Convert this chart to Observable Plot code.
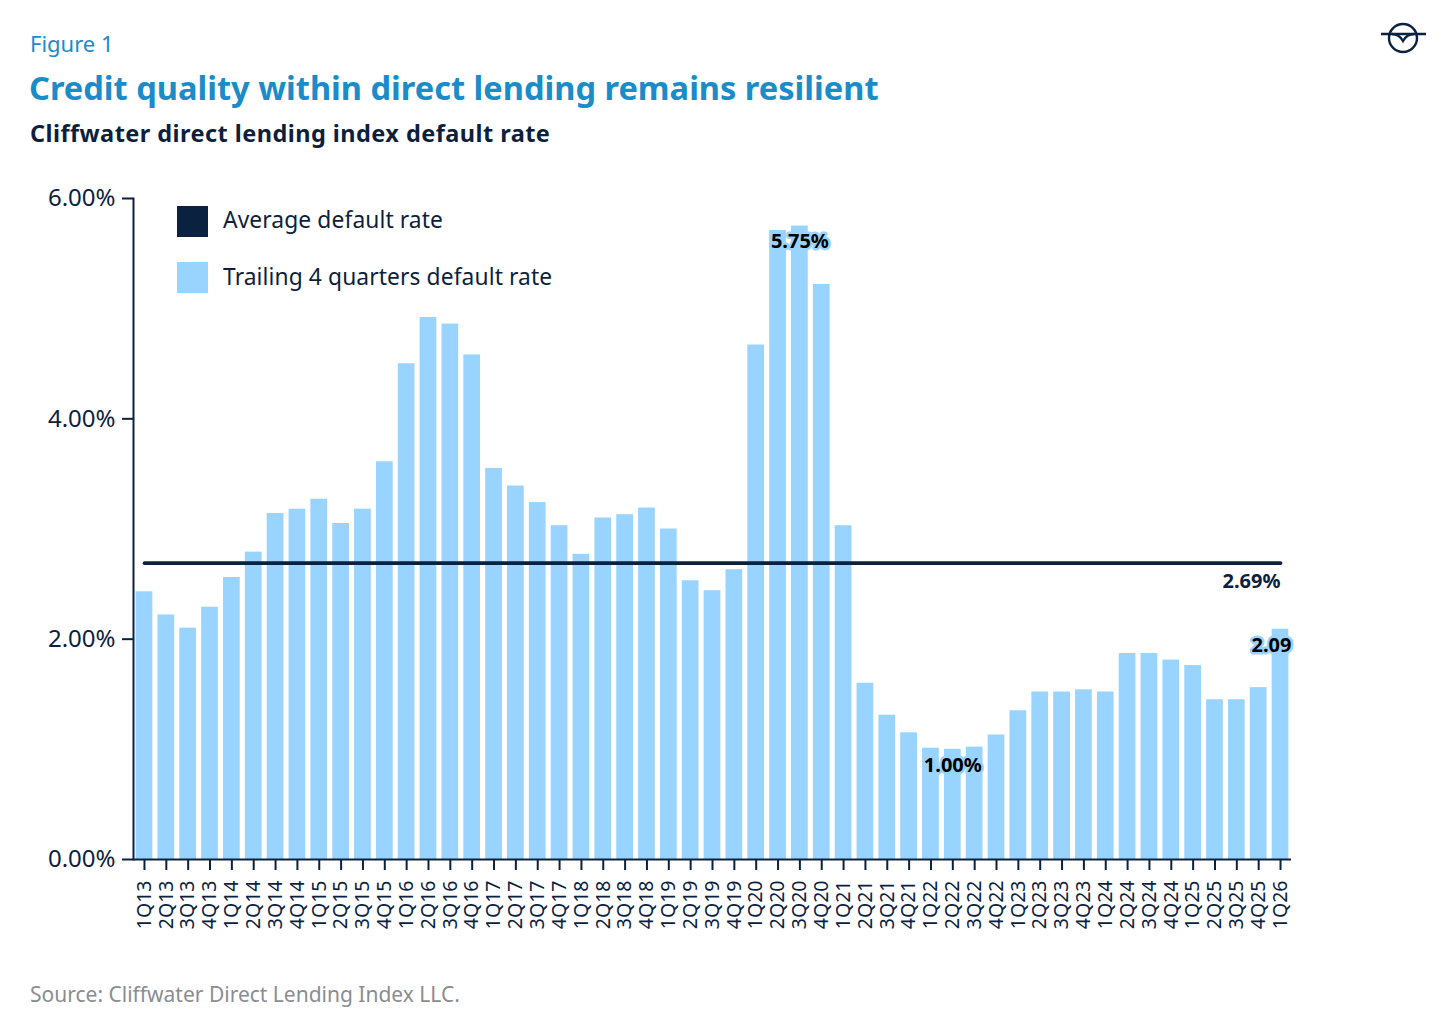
<!DOCTYPE html>
<html>
<head>
<meta charset="utf-8">
<script src="https://cdn.jsdelivr.net/npm/d3@7"></script>
<script src="https://cdn.jsdelivr.net/npm/@observablehq/plot@0.6"></script>
<style>
  body { margin: 0; background: #fff; font-family: "Noto Sans", sans-serif; }
  #wrap { position: relative; width: 1454px; height: 1024px; overflow: hidden; }
  .abs { position: absolute; white-space: nowrap; }
  #fig { left: 30px; top: 29px; font-size: 22px; line-height: 28px; color: #1a8cc8; }
  #title { left: 29px; top: 67px; font-size: 32.6px; line-height: 42px; font-weight: 700; color: #1a8cc8; }
  #sub { left: 30px; top: 118px; font-size: 23.5px; line-height: 30px; font-weight: 700; color: #0d1f3c; letter-spacing: 0.45px; }
  #source { left: 30px; top: 980px; font-size: 21px; line-height: 28px; color: #8a8d91; }
  #chart { left: 0px; top: 170px; }
  .sw { position: absolute; width: 31px; height: 31px; }
  .lg { position: absolute; font-size: 22.8px; line-height: 28px; color: #0d1f3c; letter-spacing: 0.1px; }
</style>
</head>
<body>
<div id="wrap">
  <div id="fig" class="abs">Figure 1</div>
  <div id="title" class="abs">Credit quality within direct lending remains resilient</div>
  <div id="sub" class="abs">Cliffwater direct lending index default rate</div>
  <svg class="abs" style="left:1378px;top:20px" width="52" height="36" viewBox="0 0 52 36">
    <circle cx="25" cy="18" r="14" fill="none" stroke="#0a2240" stroke-width="2.4"/>
    <line x1="3" y1="14" x2="48" y2="14" stroke="#0a2240" stroke-width="2.4"/>
    <path d="M14 14 Q21 14 25 21 Q29 14 36 14" fill="none" stroke="#0a2240" stroke-width="2.4"/>
  </svg>
  <div id="chart" class="abs"></div>
  <div class="sw" style="left:177px;top:206px;background:#0a2240"></div>
  <div class="lg" style="left:223px;top:206px">Average default rate</div>
  <div class="sw" style="left:177px;top:262px;background:#99d3ff"></div>
  <div class="lg" style="left:223px;top:263px">Trailing 4 quarters default rate</div>
  <div id="source" class="abs">Source: Cliffwater Direct Lending Index LLC.</div>
</div>
<script>
const quarters = [
  "1Q13","2Q13","3Q13","4Q13","1Q14","2Q14","3Q14","4Q14",
  "1Q15","2Q15","3Q15","4Q15","1Q16","2Q16","3Q16","4Q16",
  "1Q17","2Q17","3Q17","4Q17","1Q18","2Q18","3Q18","4Q18",
  "1Q19","2Q19","3Q19","4Q19","1Q20","2Q20","3Q20","4Q20",
  "1Q21","2Q21","3Q21","4Q21","1Q22","2Q22","3Q22","4Q22",
  "1Q23","2Q23","3Q23","4Q23","1Q24","2Q24","3Q24","4Q24",
  "1Q25","2Q25","3Q25","4Q25","1Q26"
];
const defaultRate = [
  2.43, 2.22, 2.10, 2.29, 2.56, 2.79, 3.14, 3.18,
  3.27, 3.05, 3.18, 3.61, 4.50, 4.92, 4.86, 4.58,
  3.55, 3.39, 3.24, 3.03, 2.77, 3.10, 3.13, 3.19,
  3.00, 2.53, 2.44, 2.63, 4.67, 5.71, 5.75, 5.22,
  3.03, 1.60, 1.31, 1.15, 1.01, 1.00, 1.02, 1.13,
  1.35, 1.52, 1.52, 1.54, 1.52, 1.87, 1.87, 1.81,
  1.76, 1.45, 1.45, 1.56, 2.09
];
const averageRate = 2.69;
const yTicks = [0, 2, 4, 6];
const callouts = ["3Q20", "2Q22", "1Q26"];
const calloutValues = [5.75, 1.00, 2.09];
const calloutText = ["5.75%", "1.00%", "2.09"];
const calloutShift = [0, 0, -9];

const navy = "#0a2240";
const barBlue = "#99d3ff";

const bars = quarters.map((q, i) => ({q, v: defaultRate[i]}));
const avgLine = quarters.map(q => ({q, v: averageRate}));
const labels = callouts.map((q, i) => ({q, v: calloutValues[i], t: calloutText[i], s: calloutShift[i]}));
const avgLabel = [{q: quarters[quarters.length - 1], v: averageRate, t: averageRate.toFixed(2) + "%"}];

const chart = Plot.plot({
  width: 1300,
  height: 769,
  marginLeft: 133,
  marginRight: 9,
  marginTop: 28,
  marginBottom: 80,
  style: {fontFamily: "Noto Sans, sans-serif", color: navy, background: "transparent"},
  x: {domain: quarters, paddingInner: 0.235, paddingOuter: 0.12, label: null},
  y: {domain: [0, 6], label: null},
  marks: [
    Plot.barY(bars, {x: "q", y: "v", fill: barBlue}),
    Plot.lineY(avgLine, {x: "q", y: "v", stroke: navy, strokeWidth: 3.6}),
    Plot.ruleY([0], {stroke: navy, strokeWidth: 2}),
    Plot.frame({anchor: "left", stroke: navy, strokeWidth: 2}),
    Plot.axisY(yTicks, {tickSize: 11, tickPadding: 7, fontSize: 24, stroke: navy, strokeWidth: 2, fill: navy,
      tickFormat: d => d.toFixed(2) + "%", label: null}),
    Plot.axisX({tickSize: 11, tickPadding: 10, tickRotate: -90, fontSize: 19.5, stroke: navy, strokeWidth: 2, fill: navy, label: null}),
    ...labels.map(l => Plot.text([l], {x: "q", y: "v", text: "t", dy: 16, dx: l.s, fontSize: 20, fontWeight: 700, fill: "#000",
      stroke: barBlue, strokeWidth: 5})),
    Plot.text(avgLabel, {x: "q", y: "v", text: "t", dy: 18, textAnchor: "end", fontSize: 20, fontWeight: 700, fill: navy})
  ]
});
document.getElementById("chart").appendChild(chart);
</script>
</body>
</html>
